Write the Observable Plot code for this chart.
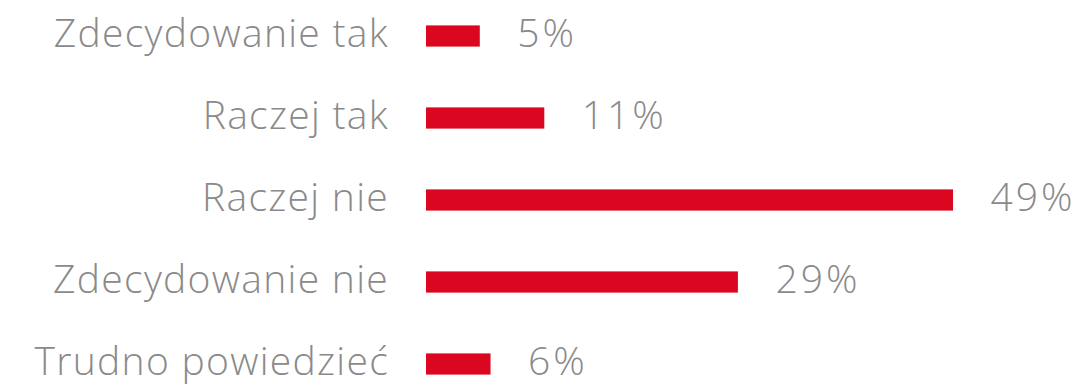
<!DOCTYPE html>
<html>
<head>
<meta charset="utf-8">
<script src="https://cdn.jsdelivr.net/npm/d3@7"></script>
<script src="https://cdn.jsdelivr.net/npm/@observablehq/plot@0.6"></script>
<style>
  html, body { margin: 0; padding: 0; background: #fff; }
  #chart svg { display: block; }
  #chart .cat text { letter-spacing: 1.3px; }
  #chart .val text { letter-spacing: 3px; }
</style>
</head>
<body>
<div id="chart"></div>
<script>
const categories = ["Zdecydowanie tak", "Raczej tak", "Raczej nie", "Zdecydowanie nie", "Trudno powiedzieć"];
const values = [5, 11, 49, 29, 6];
const valueLabels = ["5%", "11%", "49%", "29%", "6%"];

const data = categories.map((c, i) => ({category: c, value: values[i], label: valueLabels[i]}));

const font = "'Open Sans', Lato, sans-serif";
const red = "#db0620";
const gray = "#8a8a8a";

const chart = Plot.plot({
  width: 1086,
  height: 390,
  marginLeft: 426,
  marginRight: 133,
  marginTop: 0,
  marginBottom: 0,
  style: {fontFamily: font, background: "#fff"},
  x: {domain: [0, 49], axis: null},
  y: {domain: categories, range: [-6.4, 407.4], padding: 0, axis: null},
  marks: [
    Plot.barX(data, {x: "value", y: "category", fill: red, insetTop: 30.4, insetBottom: 30.4}),
    Plot.text(data, {x: 0, y: "category", text: "category", textAnchor: "end", dx: -37.5, dy: -1.5, fontSize: 39, fontWeight: 300, fill: gray, lineAnchor: "middle", className: "cat"}),
    Plot.text(data, {x: "value", y: "category", text: "label", textAnchor: "start", dx: 37, dy: -1.5, fontSize: 39, fontWeight: 300, fill: gray, lineAnchor: "middle", className: "val"})
  ]
});
document.getElementById("chart").appendChild(chart);
</script>
</body>
</html>
